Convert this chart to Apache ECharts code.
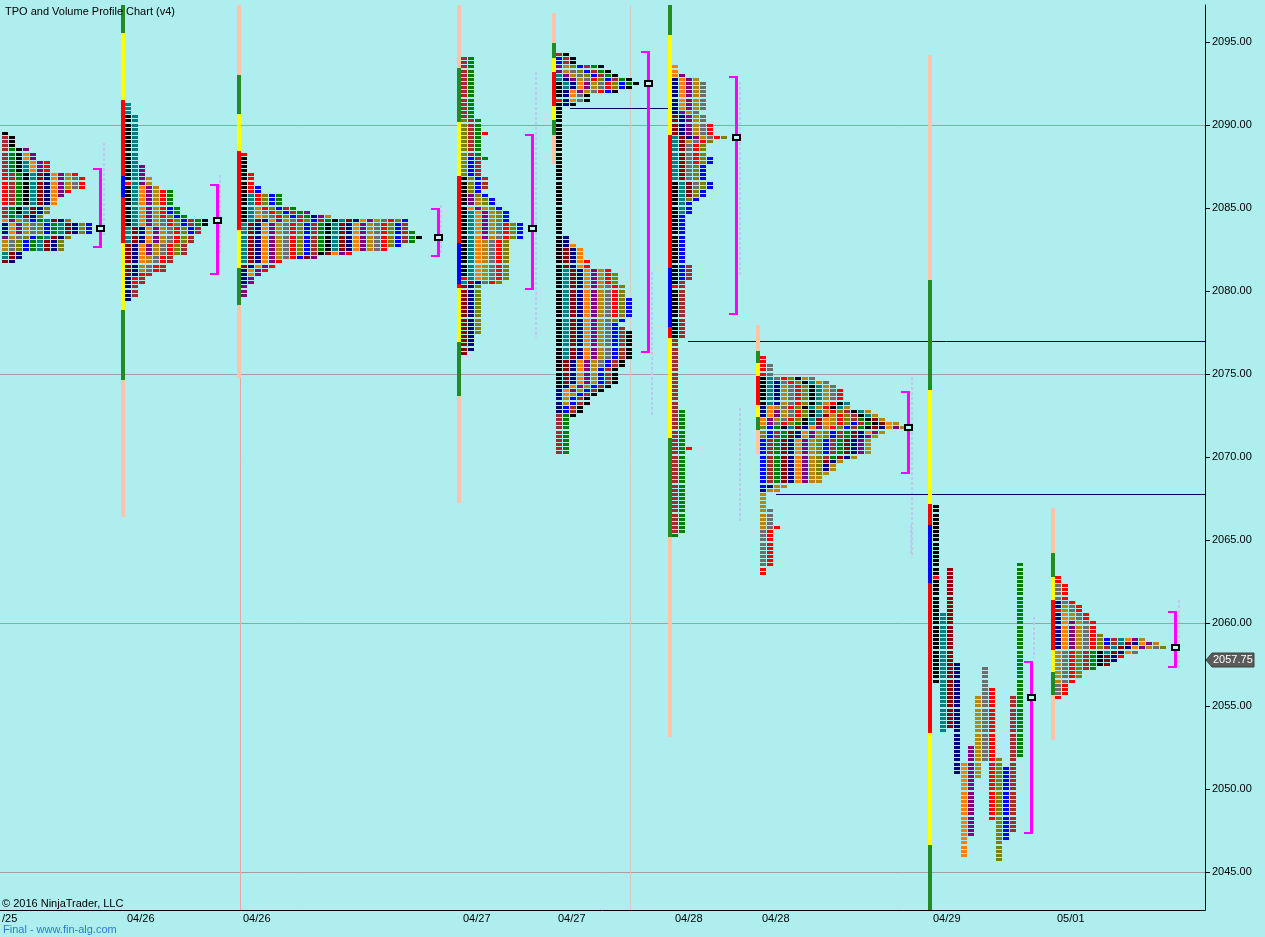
<!DOCTYPE html>
<html><head><meta charset="utf-8">
<script src="https://cdn.jsdelivr.net/npm/echarts@6/dist/echarts.min.js"></script>
<style>html,body{margin:0;padding:0;background:#AFEEEE}#c{width:1265px;height:937px}</style>
</head><body><div id="c"></div><script>
// ---------------- DATA ----------------
const yTicks = [2045, 2050, 2055, 2060, 2065, 2070, 2075, 2080, 2085, 2090, 2095];
const gridPrices = [2045, 2060, 2075, 2090];
const yMin = 2042.71, yMax = 2097.23;
const lastPrice = 2057.75;
const dateLabels = ['/25', '04/26', '04/26', '04/27', '04/27', '04/28', '04/28', '04/29', '05/01'];
const pocPrices = [2083.75, 2084.25, 2083.25, 2083.75, 2092.5, 2089.25, 2071.75, 2055.5, 2058.5];
const vaHigh = [2087.41, 2086.45, 2085.0, 2089.46, 2094.46, 2092.95, 2073.98, 2057.71, 2060.72];
const vaLow = [2082.71, 2081.1, 2082.15, 2080.16, 2076.39, 2078.66, 2069.11, 2047.39, 2057.41];
const openPrices = [null, 2086.5, 2088.25, 2080.75, 2091.5, 2080.25, null, 2062.75, 2060.75];
const nakedPocLines = [[2091.0, 570, 668], [2077.0, 688, 1205], [2067.75, 776, 1205]];
const sessionSeparators = [240, 630];
// faint volume-profile traces: [time position, high, low]
const volumeTraces = [[103, 2088.92, 2083.37], [219, 2086.99, 2082.17], [440, 2085.18, 2082.17], [535, 2093.19, 2077.17],
  [651, 2081.14, 2072.53], [739, 2092.59, 2080.96], [739, 2072.95, 2066.08], [911, 2074.82, 2063.92],
  [910, 2065.9, 2064.1], [1033, 2060.36, 2057.89], [1178, 2061.39, 2057.17]];

// TPO periods: [period number, high, low]
const periodsA = [[0,2084.0,2083.5],[1,2084.25,2083.5],[2,2084.25,2083.25],[3,2084.25,2082.5],[4,2084.25,2082.5],
  [5,2087.0,2085.25],[6,2084.0,2082.5],[7,2084.25,2082.5],[8,2089.25,2084.5],[9,2088.5,2082.5],[10,2089.5,2084.75],
  [11,2087.75,2082.0],[12,2087.0,2081.75],[13,2087.0,2081.75],[14,2088.25,2085.25],[15,2088.5,2085.75],
  [16,2087.0,2086.25],[17,2086.75,2086.25],[18,2087.75,2086.0],[19,2085.0,2082.5],[20,2084.0,2083.5]];
const periodsB = [[0,2090.5,2084.0],[1,2091.25,2083.0],[2,2083.75,2081.0],[3,2083.75,2079.5],[4,2086.25,2081.75],
  [5,2087.5,2082.25],[6,2086.75,2081.25],[7,2084.25,2081.25],[8,2086.0,2080.5],[9,2084.5,2082.25],
  [10,2085.0,2083.5],[11,2084.25,2079.75],[12,2086.0,2084.0],[13,2084.25,2084.0]];
const periodsC = [[0,2088.25,2084.25],[1,2085.75,2081.75],[2,2084.25,2081.5],[3,2084.25,2080.5],[4,2084.5,2081.0],
  [5,2084.25,2079.75],[6,2085.0,2082.0],[7,2084.75,2082.0],[8,2087.0,2081.25],[9,2085.75,2082.25],
  [10,2086.25,2082.0],[11,2085.0,2082.25],[12,2085.75,2082.5],[13,2084.25,2082.25],[14,2084.25,2082.5],
  [15,2084.25,2082.0],[16,2084.5,2082.5],[17,2084.25,2082.25],[18,2084.75,2082.0],[19,2084.5,2082.5],
  [20,2084.25,2082.5],[21,2084.25,2082.25],[22,2084.25,2082.75],[23,2084.25,2082.75],[24,2084.0,2083.0],
  [25,2083.5,2083.0],[26,2083.25,2083.25]];
const periodsD = [[0,2086.75,2080.75],[1,2084.75,2080.5],[2,2080.5,2076.25],[3,2080.5,2076.5],[4,2085.0,2080.75],
  [5,2085.75,2083.25],[6,2085.5,2080.75],[7,2084.0,2080.5],[8,2084.0,2080.5],[9,2090.25,2077.5],
  [10,2088.0,2083.25],[11,2094.0,2086.25],[12,2094.0,2088.0],[21,2089.5,2089.5]];
const periodsE = [[0,2092.5,2074.25],[1,2093.0,2092.25],[3,2092.75,2091.25],[4,2092.5,2091.5],[5,2093.5,2092.0],
  [6,2093.5,2092.0],[7,2093.25,2091.5],[8,2092.75,2092.0],[9,2093.5,2092.25],[10,2094.0,2092.0],
  [11,2094.25,2092.75],[12,2093.5,2092.5],[13,2094.25,2091.25],
  [14,2081.25,2076.0],[15,2082.5,2074.5],[16,2083.25,2072.75],[17,2082.75,2073.75],[18,2081.25,2074.0],
  [19,2081.25,2073.25],[20,2080.25,2075.5],[21,2081.75,2078.5],[22,2081.0,2078.25],[23,2079.5,2072.75],
  [24,2077.75,2070.25],[25,2072.5,2070.25],[26,2077.5,2072.5]];
const periodsF = [[0,2086.5,2077.25],[1,2089.25,2084.75],[2,2090.5,2085.75],[3,2092.75,2089.25],[4,2093.5,2091.0],
  [5,2093.0,2089.25],[6,2092.75,2089.0],[7,2092.5,2086.25],[8,2090.0,2087.75],[9,2089.25,2085.5],
  [10,2088.0,2080.75],[11,2081.5,2065.5],[12,2072.75,2065.25],[21,2070.5,2070.5]];
const periodsG = [[0,2074.75,2073.25],[1,2074.75,2073.25],[3,2074.5,2072.5],[4,2073.0,2072.0],[5,2072.75,2072.0],
  [6,2074.25,2072.25],[7,2074.75,2072.0],[8,2076.0,2072.0],[9,2074.75,2071.25],[10,2071.75,2068.25],
  [11,2071.5,2068.5],[12,2072.0,2068.5],[13,2074.75,2071.75],[14,2074.5,2071.75],[15,2072.5,2068.5],
  [16,2071.75,2068.0],[17,2072.25,2068.5],[18,2071.75,2068.5],[19,2074.75,2068.0],[20,2075.5,2073.5],
  [21,2074.0,2071.75],[22,2072.75,2069.0],[23,2072.0,2070.25],[24,2072.75,2070.0],[25,2072.25,2070.0],
  [26,2073.25,2071.75],[27,2073.25,2072.5],[28,2072.25,2069.75],[29,2071.75,2069.25],[30,2072.0,2071.5],
  [31,2071.75,2070.25],[32,2073.0,2065.75],[33,2066.75,2063.5],[34,2065.75,2063.0]];
const periodsH = [[0,2067.0,2056.5],[1,2060.5,2053.5],[2,2063.25,2053.75],[3,2057.5,2051.0],[4,2051.5,2046.0],
  [5,2052.5,2047.25],[6,2055.5,2050.75],[7,2057.25,2051.75],[8,2056.0,2048.25],[9,2051.75,2045.75],
  [10,2051.25,2047.0],[11,2055.5,2047.5],[12,2063.5,2052.0]];
const periodsI = [[0,2061.25,2058.5],[1,2060.5,2058.5],[2,2060.0,2058.5],[3,2061.0,2056.5],[4,2062.25,2055.75],
  [5,2062.75,2055.5],[6,2059.25,2056.75],[7,2059.0,2058.75],[8,2059.0,2057.25],[9,2058.25,2057.25],
  [10,2058.25,2057.5],[11,2059.0,2058.25],[12,2058.75,2057.5],[13,2058.75,2057.75],[14,2059.0,2058.25],
  [15,2059.0,2058.5],[16,2059.0,2058.5],[17,2058.5,2058.25],[18,2058.0,2058.0],[19,2058.5,2058.5]];

// session range bars: [kind, high, low]
const barsA = [];
const barsB = [['g',2097.23,2095.54],['y',2095.54,2091.5],['r',2091.5,2086.93],['b',2086.93,2085.66],['r',2085.66,2082.89],['y',2082.89,2078.86],['g',2078.86,2074.64],['p',2074.64,2066.39]];
const barsC = [['p',2097.23,2093.01],['g',2093.01,2090.66],['y',2090.66,2088.43],['r',2088.43,2083.67],['y',2083.67,2081.39],['g',2081.39,2079.16],['p',2079.16,2074.76]];
const barsD = [['p',2097.23,2093.43],['g',2093.43,2090.18],['y',2090.18,2086.93],['r',2086.93,2082.89],['b',2082.89,2080.42],['r',2080.42,2080.18],['y',2080.18,2076.93],['g',2076.93,2073.67],['p',2073.67,2067.23]];
const barsE = [['p',2096.75,2094.94],['g',2094.94,2094.04],['y',2094.04,2093.19],['r',2093.19,2091.14],['y',2091.14,2090.3],['g',2090.3,2089.4],['p',2089.4,2087.65]];
const barsF = [['g',2097.23,2095.42],['y',2095.42,2089.4],['r',2089.4,2081.39],['b',2081.39,2077.83],['r',2077.83,2077.17],['y',2077.17,2071.14],['g',2071.14,2065.18],['p',2065.18,2053.13]];
const barsG = [['p',2077.95,2076.39],['g',2076.39,2075.66],['y',2075.66,2074.88],['r',2074.88,2073.13],['y',2073.13,2072.41],['g',2072.41,2071.63],['p',2071.63,2070.18]];
const barsH = [['p',2094.22,2080.66],['g',2080.66,2074.04],['y',2074.04,2067.17],['r',2067.17,2065.9],['b',2065.9,2062.41],['r',2062.41,2053.37],['y',2053.37,2046.63],['g',2046.63,2042.71]];
const barsI = [['p',2066.93,2064.22],['g',2064.22,2062.77],['y',2062.77,2061.39],['r',2061.39,2058.37],['y',2058.37,2057.05],['g',2057.05,2055.66],['p',2055.66,2052.95]];

// ---------------- LAYOUT / STYLE ----------------
const blockX = [2, 125, 241, 461, 556, 672, 760, 933, 1055];
const barX = [null, 121, 237, 457, 552, 668, 756, 928, 1051];
const bracketX = [100.5, 217, 438, 532, 648, 736, 908, 1031, 1175];
const labelX = [2, 127, 243, 463, 558, 675, 762, 933, 1057];
const splitMode = [false, false, false, false, false, false, false, true, false];
const cycleStart = [0, 10, 10, 10, 10, 10, 10, 10, 0];
const COL = 7;
const palette = ['#000080','#FF8000','#800080','#B8860B','#6E6E6E','#FF0000','#808000','#0000FF','#A52A2A','#008000','#000000','#008080','#8B0000'];
const barColors = {p:'#FFC4A8', g:'#228B22', y:'#FFFF00', r:'#FF0000', b:'#0000FF'};
const FONT = 'Liberation Sans, Arial, sans-serif';

const allPeriods = [periodsA, periodsB, periodsC, periodsD, periodsE, periodsF, periodsG, periodsH, periodsI];
const allBars = [barsA, barsB, barsC, barsD, barsE, barsF, barsG, barsH, barsI];

// build TPO blocks through the price scale
const blockData = [];
allPeriods.forEach((periods, s) => {
  const sorted = periods.slice().sort((a, b) => a[0] - b[0]);
  const rows = {};
  sorted.forEach(([n, hi, lo]) => {
    for (let q = Math.round(hi * 4); q >= Math.round(lo * 4); q--) {
      (rows[q] = rows[q] || []).push(n);
    }
  });
  const openQ = openPrices[s] == null ? null : Math.round(openPrices[s] * 4);
  Object.keys(rows).forEach(k => {
    const q = +k;
    rows[q].forEach((n, i) => {
      const col = splitMode[s] ? n : i;
      let c = palette[(cycleStart[s] + n) % 13];
      if (q === openQ && i === 0) c = '#FF0000';
      blockData.push([blockX[s] + COL * col, q / 4, c]);
    });
  });
});

const barData = [];
allBars.forEach((bars, s) => bars.forEach(([k, hi, lo]) => barData.push([barX[s], hi, lo, barColors[k]])));
const bracketData = vaHigh.map((h, s) => [bracketX[s], h, vaLow[s]]);
const pocData = pocPrices.map((p, s) => [bracketX[s], p]);
const labelData = dateLabels.map((t, s) => [labelX[s], yMin, t]);

const chart = echarts.init(document.getElementById('c'), null, {renderer: 'canvas'});
const txt = (color) => ({fontSize: 11, fontWeight: 'normal', color: color, fontFamily: FONT});
const option = {
  backgroundColor: '#AFEEEE',
  animation: false,
  title: [
    {text: 'TPO and Volume Profile Chart (v4)', left: 5, top: 6, padding: 0, textStyle: txt('#000')},
    {text: '© 2016 NinjaTrader, LLC', left: 2, top: 898, padding: 0, textStyle: txt('#000')},
    {text: 'Final - www.fin-alg.com', left: 3, top: 924, padding: 0, textStyle: txt('#2A7BD0')}
  ],
  grid: {left: 0, right: 60, top: 5, bottom: 27},
  xAxis: {type: 'value', min: 0, max: 1205,
    axisLine: {show: true, onZero: false, lineStyle: {color: '#000', width: 1}},
    axisTick: {show: false}, axisLabel: {show: false}, splitLine: {show: false}},
  yAxis: {type: 'value', position: 'right', min: yMin, max: yMax,
    axisLine: {show: true, onZero: false, lineStyle: {color: '#000', width: 1}},
    axisTick: {show: true, length: 5, customValues: yTicks, lineStyle: {color: '#000'}},
    axisLabel: {customValues: yTicks, formatter: v => v.toFixed(2), fontSize: 11, color: '#000', margin: 7, fontFamily: FONT},
    splitLine: {show: false}},
  series: [
    { // grid lines
      type: 'custom', silent: true, z: 1, data: gridPrices.map(p => [0, p]),
      renderItem: (params, api) => {
        const a = api.coord([0, api.value(1)]), b = api.coord([1205, api.value(1)]);
        const y = Math.round(a[1]) + 0.5;
        return {type: 'line', shape: {x1: a[0], y1: y, x2: b[0], y2: y}, style: {stroke: '#A0A0A0', lineWidth: 1}};
      }
    },
    { // session separators
      type: 'custom', silent: true, z: 1, data: sessionSeparators.map((x, i) => [x, i]),
      renderItem: (params, api) => {
        const a = api.coord([api.value(0), yMax]), b = api.coord([api.value(0), yMin]);
        const x = Math.round(a[0]) + 0.5;
        return {type: 'line', shape: {x1: x, y1: a[1], x2: x, y2: b[1]}, style: {stroke: api.value(1) === 0 ? '#E8A8A0' : '#D8C8C0', lineWidth: 1}};
      }
    },
    { // faint volume traces
      type: 'custom', silent: true, z: 2, data: volumeTraces,
      renderItem: (params, api) => {
        const a = api.coord([api.value(0), api.value(1)]), b = api.coord([api.value(0), api.value(2)]);
        const x = Math.round(a[0]) + 1;
        return {type: 'line', shape: {x1: x, y1: Math.round(a[1]), x2: x, y2: Math.round(b[1])}, style: {stroke: '#BEC8F2', lineWidth: 2, lineDash: [3, 2]}};
      }
    },
    { // naked POC lines
      type: 'custom', silent: true, z: 2, data: nakedPocLines.map(d => [d[1], d[0], d[2]]),
      renderItem: (params, api) => {
        const a = api.coord([api.value(0), api.value(1)]), b = api.coord([api.value(2), api.value(1)]);
        const y = Math.round(a[1]) + 0.5;
        return {type: 'line', shape: {x1: a[0], y1: y, x2: b[0], y2: y}, style: {stroke: '#000060', lineWidth: 1}};
      }
    },
    { // session range bars
      type: 'custom', silent: true, z: 3, data: barData,
      renderItem: (params, api) => {
        const a = api.coord([api.value(0), api.value(1)]), b = api.coord([api.value(0), api.value(2)]);
        const y1 = Math.round(a[1]), y2 = Math.round(b[1]);
        return {type: 'rect', shape: {x: Math.round(a[0]), y: y1, width: 4, height: y2 - y1}, style: {fill: barData[params.dataIndex][3]}};
      }
    },
    { // TPO blocks
      type: 'custom', silent: true, z: 4, data: blockData,
      renderItem: (params, api) => {
        const c = api.coord([api.value(0), api.value(1)]);
        return {type: 'rect', shape: {x: Math.round(c[0]), y: Math.round(c[1] - 1.5), width: 6, height: 3}, style: {fill: blockData[params.dataIndex][2]}};
      }
    },
    { // value area brackets
      type: 'custom', silent: true, z: 5, data: bracketData,
      renderItem: (params, api) => {
        const a = api.coord([api.value(0), api.value(1)]), b = api.coord([api.value(0), api.value(2)]);
        const x = Math.round(a[0] - 1.5), y1 = Math.round(a[1]), y2 = Math.round(b[1]);
        const st = {fill: '#FF00FF'};
        return {type: 'group', children: [
          {type: 'rect', shape: {x: x, y: y1, width: 3, height: y2 - y1 + 2}, style: st},
          {type: 'rect', shape: {x: x - 6, y: y1, width: 7, height: 2}, style: st},
          {type: 'rect', shape: {x: x - 6, y: y2, width: 7, height: 2}, style: st}
        ]};
      }
    },
    { // POC markers
      type: 'custom', silent: true, z: 6, data: pocData,
      renderItem: (params, api) => {
        const c = api.coord([api.value(0), api.value(1)]);
        const x = Math.round(c[0] - 4.5), y = Math.round(c[1] - 3.5);
        return {type: 'group', children: [
          {type: 'rect', shape: {x: x, y: y, width: 9, height: 7}, style: {fill: '#000'}},
          {type: 'rect', shape: {x: x + 2, y: y + 2, width: 5, height: 3}, style: {fill: '#C8F4F4'}}
        ]};
      }
    },
    { // date labels
      type: 'custom', silent: true, z: 6, data: labelData,
      renderItem: (params, api) => {
        const c = api.coord([api.value(0), api.value(1)]);
        return {type: 'text', x: c[0], y: c[1] + 3, style: {text: labelData[params.dataIndex][2], fill: '#000', font: '11px ' + FONT, textAlign: 'left', textVerticalAlign: 'top'}};
      }
    },
    { // last price tag
      type: 'custom', silent: true, z: 7, data: [[1205, lastPrice]],
      renderItem: (params, api) => {
        const c = api.coord([api.value(0), api.value(1)]);
        const x = Math.round(c[0]) + 1, y = Math.round(c[1]);
        return {type: 'group', children: [
          {type: 'polygon', shape: {points: [[x, y], [x + 6, y - 7], [x + 48, y - 7], [x + 48, y + 7], [x + 6, y + 7]]}, style: {fill: '#5A5A5A', stroke: '#404040', lineWidth: 1}},
          {type: 'text', x: x + 7, y: y, style: {text: lastPrice.toFixed(2), fill: '#FFF', font: '11px ' + FONT, textAlign: 'left', textVerticalAlign: 'middle'}}
        ]};
      }
    }
  ]
};
chart.setOption(option);
</script></body></html>
